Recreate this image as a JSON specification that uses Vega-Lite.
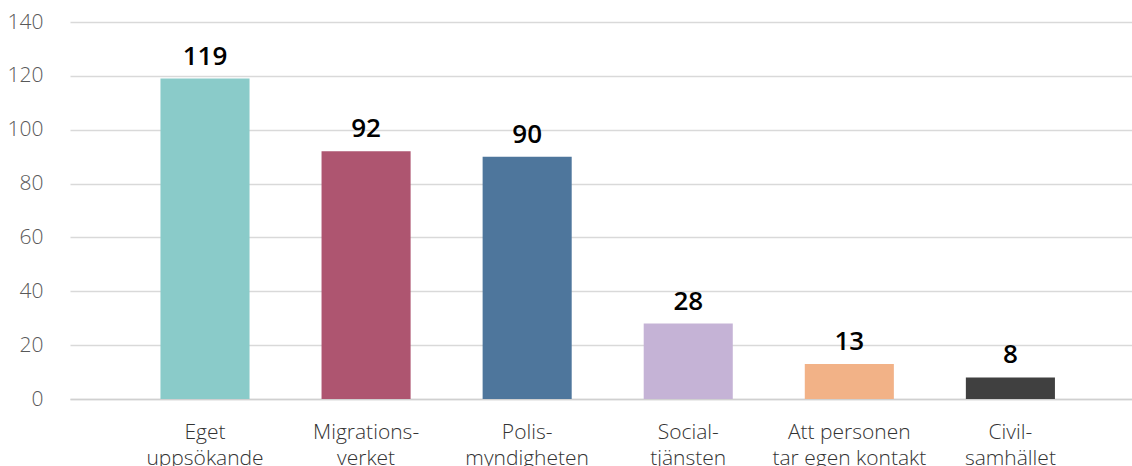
{
  "$schema": "https://vega.github.io/schema/vega-lite/v6.json",
  "autosize": "none",
  "width": 1062,
  "height": 377,
  "padding": {"left": 70, "top": 22, "right": 0, "bottom": 67},
  "background": "white",
  "config": {"view": {"stroke": null}, "font": "Open Sans"},
  "data": {"values": [
    {"kategori": "Eget uppsökande", "antal": 119, "farg": "#8ACBC9"},
    {"kategori": "Migrationsverket", "antal": 92, "farg": "#AE5570"},
    {"kategori": "Polismyndigheten", "antal": 90, "farg": "#4E769C"},
    {"kategori": "Socialtjänsten", "antal": 28, "farg": "#C5B3D6"},
    {"kategori": "Att personen tar egen kontakt", "antal": 13, "farg": "#F2B287"},
    {"kategori": "Civilsamhället", "antal": 8, "farg": "#404040"}
  ]},
  "encoding": {
    "x": {
      "field": "kategori", "type": "nominal", "sort": null,
      "scale": {"paddingInner": 0.447, "paddingOuter": 0.52, "align": 0.54},
      "axis": {
        "title": null, "labelAngle": 0, "ticks": false, "domain": true,
        "domainColor": "#d0d0d0", "domainWidth": 1.5,
        "labelFontSize": 21, "labelColor": "#333333", "labelPadding": 39,
        "labelLineHeight": 26, "labelBaseline": "alphabetic", "labelFontWeight": 300,
        "labelExpr": "{'Eget uppsökande':['Eget','uppsökande'],'Migrationsverket':['Migrations-','verket'],'Polismyndigheten':['Polis-','myndigheten'],'Socialtjänsten':['Social-','tjänsten'],'Att personen tar egen kontakt':['Att personen','tar egen kontakt'],'Civilsamhället':['Civil-','samhället']}[datum.label]"
      }
    },
    "y": {
      "field": "antal", "type": "quantitative",
      "scale": {"domain": [0, 140], "nice": false},
      "axis": {
        "title": null, "values": [0, 20, 40, 60, 80, 100, 120, 140],
        "ticks": false, "domain": false, "grid": true, "gridColor": "#d9d9d9",
        "gridWidth": 1.3, "labelFontSize": 21, "labelColor": "#595959",
        "labelPadding": 27, "labelFontWeight": 300
      }
    }
  },
  "layer": [
    {"mark": {"type": "bar"}, "encoding": {"color": {"field": "farg", "type": "nominal", "scale": null}}},
    {"mark": {"type": "text", "baseline": "alphabetic", "dy": -14, "fontSize": 26, "fontWeight": 600, "color": "#000000"},
     "encoding": {"text": {"field": "antal", "type": "quantitative"}}}
  ]
}
